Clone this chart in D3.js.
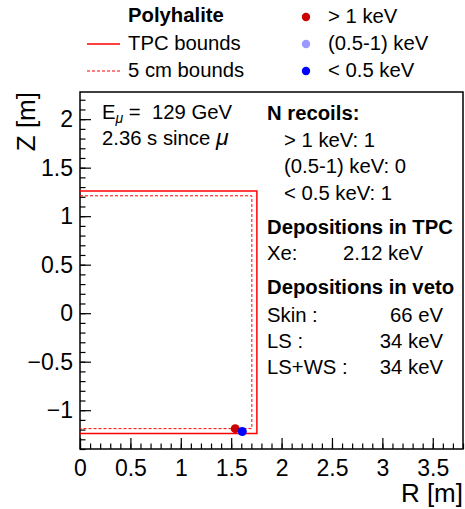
<!DOCTYPE html>
<html>
<head>
<meta charset="utf-8" />
<script src="https://unpkg.com/d3@7.9.0/dist/d3.min.js"></script>
<style>
  html,body{margin:0;padding:0;background:#fff;}
  svg{display:block;font-family:"Liberation Sans",Arial,sans-serif;}
  text{white-space:pre;}
</style>
</head>
<body>
<svg id="svg" width="465" height="509"></svg>
<script>
// ----- data -----
const xDomain = [0, 3.8];
const yDomain = [-1.4, 2.28];
const xTicks = [0, 0.5, 1, 1.5, 2, 2.5, 3, 3.5];
const yTicks = [-1, -0.5, 0, 0.5, 1, 1.5, 2];

// bounds: [r, zMin, zMax]
const tpcBounds = [1.755, -1.24, 1.26];
const fidBounds = [1.705, -1.19, 1.21];

// recoils
const recoilR = [1.54, 1.61];
const recoilZ = [-1.19, -1.22];
const recoilBin = ['> 1 keV', '< 0.5 keV'];

const binLabels = ['> 1 keV', '(0.5-1) keV', '< 0.5 keV'];
const binColors = ['#cc0000', '#9999ff', '#0000ff'];

const infoLines = [
  {t:'N recoils:', b:true, x:0},
  {t:'> 1 keV: 1', x:17},
  {t:'(0.5-1) keV: 0', x:17},
  {t:'< 0.5 keV: 1', x:17}
];
const veto = [['Skin :', '66 eV'], ['LS :', '34 keV'], ['LS+WS :', '34 keV']];

// ----- layout -----
const svg = d3.select('#svg');
const L = 80, R = 463, T = 92, B = 449;
const x = d3.scaleLinear().domain(xDomain).range([L, R]);
const y = d3.scaleLinear().domain(yDomain).range([B, T]);
const color = d3.scaleOrdinal().domain(binLabels).range(binColors);
const fmt = d3.format('~g');

// frame
svg.append('rect').attr('x', L).attr('y', T).attr('width', R - L).attr('height', B - T)
  .attr('fill', 'none').attr('stroke', '#000').attr('stroke-width', 1.5);

// axes
function styleAxis(g){
  g.select('.domain').remove();
  g.selectAll('line').attr('stroke', '#000').attr('stroke-width', 1.2);
}
const minorX = d3.range(0, 3.801, 0.1);
const minorY = d3.range(-1.4, 2.281, 0.1);
svg.append('g').attr('transform', `translate(0,${B})`)
  .call(d3.axisBottom(x).tickValues(minorX).tickSize(-5.5).tickFormat(''))
  .call(styleAxis);
svg.append('g').attr('transform', `translate(0,${B})`)
  .call(d3.axisBottom(x).tickValues(xTicks).tickSize(-11).tickPadding(11).tickFormat(fmt))
  .call(styleAxis)
  .call(g => g.selectAll('text').attr('font-size', 23).attr('fill', '#000').attr('font-family', null));
svg.append('g').attr('transform', `translate(${L},0)`)
  .call(d3.axisLeft(y).tickValues(minorY).tickSize(-5.5).tickFormat(''))
  .call(styleAxis);
svg.append('g').attr('transform', `translate(${L},0)`)
  .call(d3.axisLeft(y).tickValues(yTicks).tickSize(-11).tickPadding(7).tickFormat(fmt))
  .call(styleAxis)
  .call(g => g.selectAll('text').attr('font-size', 23).attr('fill', '#000').attr('font-family', null));

// axis titles
svg.append('text').attr('x', R).attr('y', 502).attr('text-anchor', 'end')
  .attr('font-size', 26).text('R [m]');
svg.append('text').attr('transform', `translate(35,${T}) rotate(-90)`)
  .attr('text-anchor', 'end').attr('font-size', 26).text('Z [m]');

// bounds
function boundPath(b){
  return `M${x(0)},${y(b[2])}H${x(b[0])}V${y(b[1])}H${x(0)}`;
}
svg.append('path').attr('d', boundPath(tpcBounds)).attr('fill', 'none')
  .attr('stroke', '#ff0000').attr('stroke-width', 1.5);
svg.append('path').attr('d', boundPath(fidBounds)).attr('fill', 'none')
  .attr('stroke', '#ff0000').attr('stroke-width', 1).attr('stroke-dasharray', '3,2');

// recoil points
svg.append('g').selectAll('circle').data(recoilR).join('circle')
  .attr('cx', d => x(d)).attr('cy', (d, i) => y(recoilZ[i])).attr('r', 4.5)
  .attr('fill', (d, i) => color(recoilBin[i]));

// legend
const leg = svg.append('g').attr('font-size', 20.3);
leg.append('text').attr('x', 128).attr('y', 22).attr('font-weight', 'bold').text('Polyhalite');
leg.append('line').attr('x1', 87).attr('x2', 120).attr('y1', 44).attr('y2', 44)
  .attr('stroke', '#ff0000').attr('stroke-width', 1.5);
leg.append('text').attr('x', 128).attr('y', 50).text('TPC bounds');
leg.append('line').attr('x1', 87).attr('x2', 120).attr('y1', 71).attr('y2', 71)
  .attr('stroke', '#ff0000').attr('stroke-width', 1).attr('stroke-dasharray', '3,2');
leg.append('text').attr('x', 128).attr('y', 77).text('5 cm bounds');
binLabels.forEach((b, i) => {
  const cy = 17 + i * 27;
  leg.append('circle').attr('cx', 306).attr('cy', cy).attr('r', 4.2).attr('fill', color(b));
  leg.append('text').attr('x', 328).attr('y', cy + 6).text(b);
});

// muon info
const mu = svg.append('g').attr('font-size', 20.3);
const e = mu.append('text').attr('x', 102).attr('y', 119);
e.append('tspan').text('E');
e.append('tspan').attr('font-size', 14).attr('font-style', 'italic').attr('dy', 4).text('μ');
e.append('tspan').attr('dy', -4).text(' =  129 GeV');
const s = mu.append('text').attr('x', 102).attr('y', 145);
s.append('tspan').text('2.36 s since ');
s.append('tspan').attr('font-style', 'italic').attr('font-size', 23).text('μ');

// info panel
const info = svg.append('g').attr('font-size', 20.3);
infoLines.forEach((d, i) => {
  info.append('text').attr('x', 267 + d.x).attr('y', 120 + i * 26.5)
    .attr('font-weight', d.b ? 'bold' : null).text(d.t);
});
info.append('text').attr('x', 267).attr('y', 234).attr('font-weight', 'bold').text('Depositions in TPC');
info.append('text').attr('x', 267).attr('y', 260).text('Xe:');
info.append('text').attr('x', 343).attr('y', 260).text('2.12 keV');
info.append('text').attr('x', 267).attr('y', 294).attr('font-weight', 'bold').text('Depositions in veto');
veto.forEach((v, i) => {
  info.append('text').attr('x', 267).attr('y', 322 + i * 26).text(v[0]);
  info.append('text').attr('x', 443).attr('y', 322 + i * 26).attr('text-anchor', 'end').text(v[1]);
});
</script>
</body>
</html>
